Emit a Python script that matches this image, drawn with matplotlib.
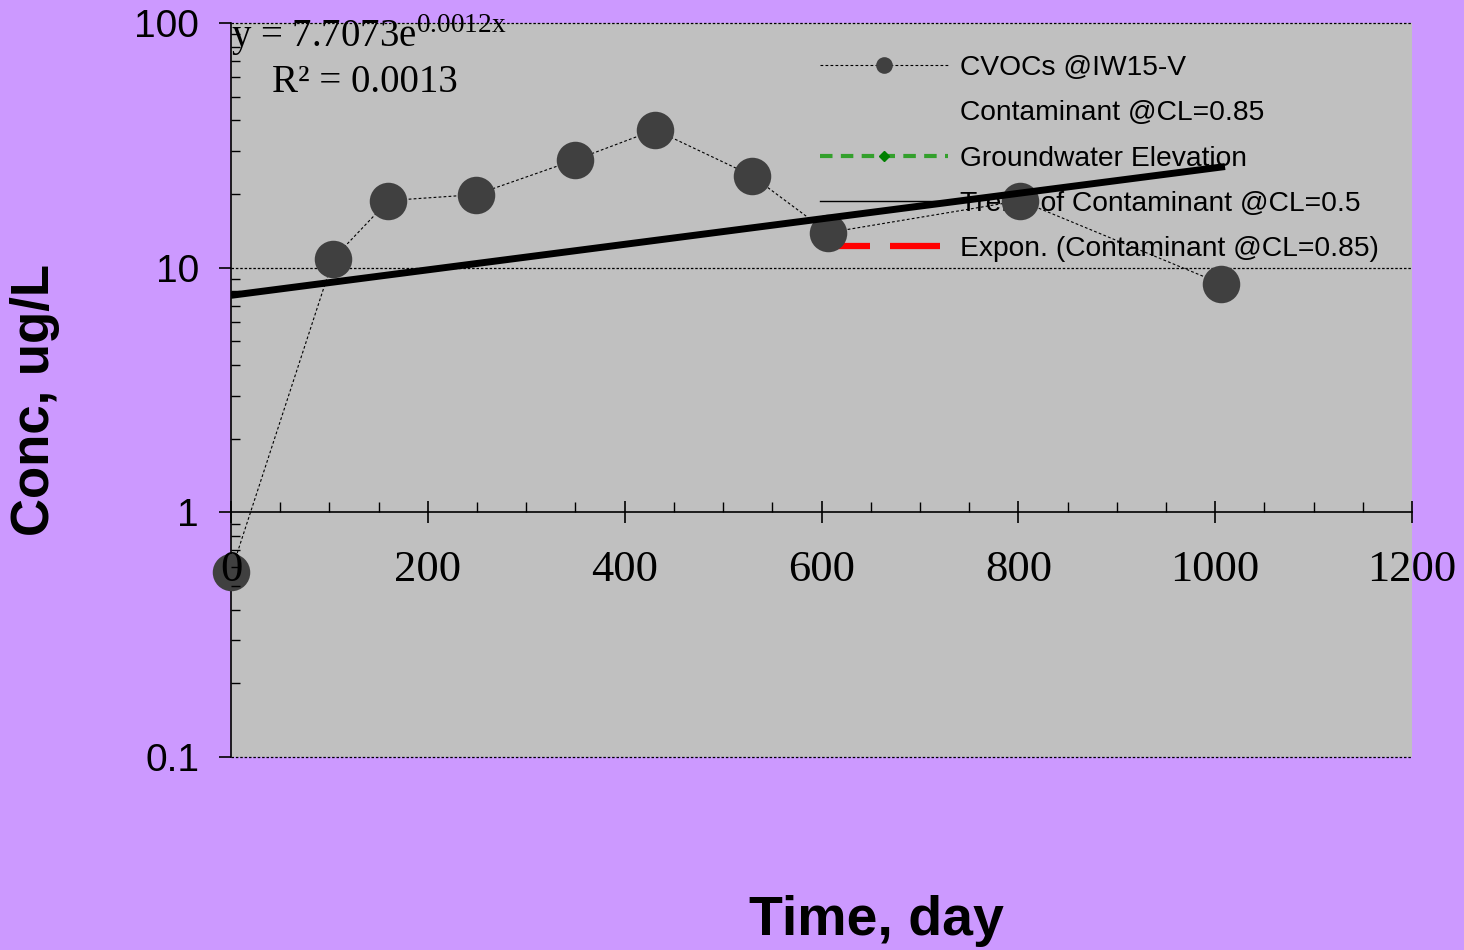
import numpy as np
import matplotlib
matplotlib.use("Agg")
import matplotlib.pyplot as plt
from matplotlib.lines import Line2D
from matplotlib.ticker import FixedLocator, NullFormatter

# data
days = [0, 104, 160, 249, 350, 431, 529, 607, 802, 1006]
conc = [0.57, 10.9, 18.8, 19.9, 27.6, 36.6, 23.8, 13.9, 18.8, 8.6]

# exponential trend as printed on the chart
trend_a = 7.7073
trend_b = 0.0012
trend_x = np.array([0, 1010])

legend_labels = ["CVOCs @IW15-V", "Contaminant @CL=0.85", "Groundwater Elevation",
                 "Trend of Contaminant @CL=0.5", "Expon. (Contaminant @CL=0.85)"]

x_ticks = [0, 200, 400, 600, 800, 1000, 1200]
y_ticks = [0.1, 1, 10, 100]
y_ticklabels = ["0.1", "1", "10", "100"]

plt.rcParams["mathtext.fontset"] = "custom"
plt.rcParams["mathtext.rm"] = "Liberation Serif"

fig = plt.figure(figsize=(14.64, 9.5), dpi=100, facecolor="#CC99FF")
ax = fig.add_axes([231/1464, 1-757/950, (1412-231)/1464, (757-23)/950])
ax.set_facecolor("#C0C0C0")

ax.set_yscale("log")
ax.set_xlim(0, 1200)
ax.set_ylim(0.1, 100)

# gridlines at decades
for yv in [0.1, 10, 100]:
    ax.axhline(yv, color="black", lw=0.9, ls=(0, (2, 1.5)), zorder=1, clip_on=False)

# spines: only left solid, bottom axis crosses at y=1
ax.spines["top"].set_visible(False)
ax.spines["right"].set_visible(False)
ax.spines["bottom"].set_position(("data", 1))
ax.spines["left"].set_linewidth(1.2)
ax.spines["bottom"].set_linewidth(1.2)

ax.xaxis.set_major_locator(FixedLocator(x_ticks))
ax.xaxis.set_minor_locator(FixedLocator(np.arange(0, 1201, 50)))
ax.set_xticklabels([str(v) for v in x_ticks], fontfamily="Liberation Serif", fontsize=32)
ax.tick_params(axis="x", which="major", direction="inout", length=16, width=1.2, pad=19)
ax.tick_params(axis="x", which="minor", direction="in", length=7, width=1)

ax.yaxis.set_major_locator(FixedLocator(y_ticks))
ax.set_yticklabels(y_ticklabels, fontfamily="Liberation Sans", fontsize=28)
ax.yaxis.set_minor_formatter(NullFormatter())
ax.tick_params(axis="y", which="major", direction="out", length=9, width=1.2, pad=14)
ax.tick_params(axis="y", which="minor", direction="in", length=6.5, width=1)

# data
ax.plot(days, conc, color="black", lw=0.8, ls=(0, (2.5, 2)), zorder=3)
ax.plot(days, conc, ls="none", marker="o", ms=27, mfc="#404040", mec="none",
        zorder=3, clip_on=False)

# trend line
ax.plot(trend_x, trend_a * np.exp(trend_b * trend_x), color="black", lw=5,
        solid_capstyle="butt", zorder=4)

ax.xaxis.set_zorder(5)
ax.yaxis.set_zorder(5)

handles = [
    Line2D([], [], color="black", lw=0.8, ls=(0, (2.5, 2)), marker="o", ms=12,
           mfc="#404040", mec="none"),
    Line2D([], [], color="none"),
    Line2D([], [], color="#33A02C", lw=3, ls=(0, (3, 2)), marker="D", ms=5,
           mfc="#008000", mec="#008000"),
    Line2D([], [], color="black", lw=1),
    Line2D([], [], color="red", lw=4.5, ls=(0, (8, 3.2))),
]
leg = ax.legend(handles, legend_labels, loc="upper left",
                bbox_to_anchor=(820/1464, 1-55/950), bbox_transform=fig.transFigure,
                frameon=False, prop={"family": "Liberation Sans", "size": 20.3},
                handlelength=4.54, handletextpad=0.43, labelspacing=0.685,
                borderpad=0, borderaxespad=0)
leg.set_zorder(2)

# trend equation
fig.text(231/1464, 1-47/950, "y = 7.7073e$^{\\mathrm{0.0012x}}$",
         fontfamily="Liberation Serif", fontsize=28, va="baseline", ha="left")
fig.text(272/1464, 1-92/950, "R² = 0.0013",
         fontfamily="Liberation Serif", fontsize=28, va="baseline", ha="left")

fig.text(35/1464, 1-400/950, "Conc, ug/L", rotation=90, ha="center", va="center",
         fontfamily="Liberation Sans", fontweight="bold", fontsize=38)
fig.text(876/1464, 1-921/950, "Time, day", ha="center", va="center",
         fontfamily="Liberation Sans", fontweight="bold", fontsize=40)

fig.savefig("out.png", dpi=100, facecolor=fig.get_facecolor())
